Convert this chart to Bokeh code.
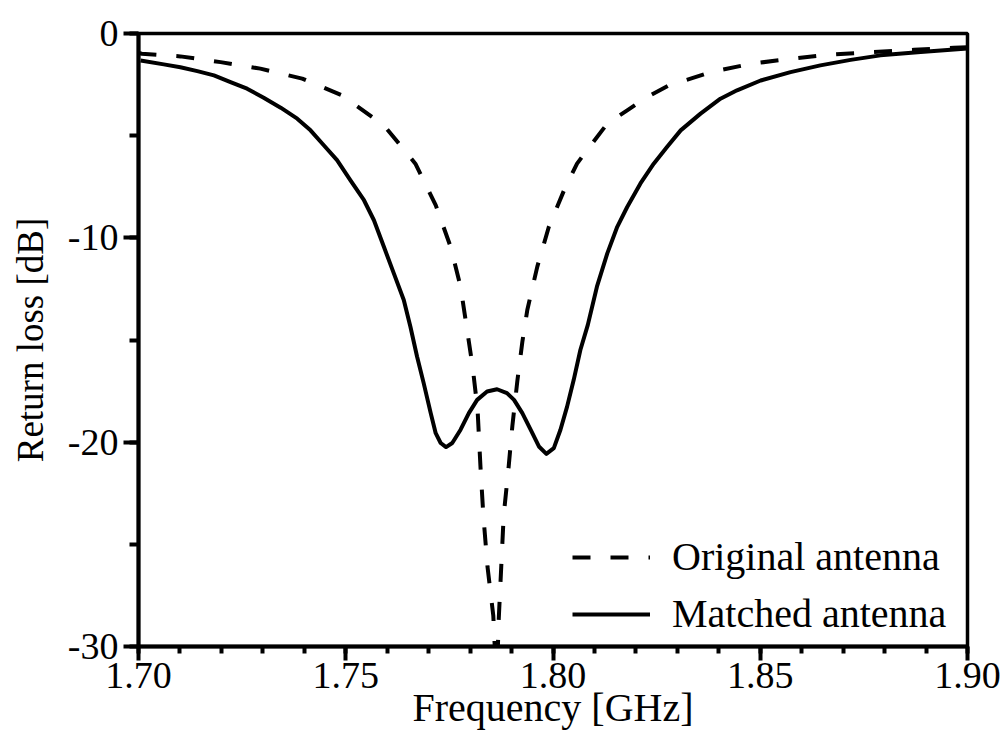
import numpy as np
from bokeh.plotting import figure
from bokeh.models import Range1d, FixedTicker, Legend, LegendItem
from bokeh.embed import file_html
from bokeh.resources import INLINE

# ---- data ----
matched_freq = [1.7005, 1.7061, 1.7101, 1.7142, 1.7182, 1.7222, 1.7262, 1.7302, 1.7343,
                1.7383, 1.7415, 1.7447, 1.7479, 1.7511, 1.7544, 1.7568, 1.7592, 1.7616,
                1.7640, 1.7656, 1.7672, 1.7688, 1.7705, 1.7717, 1.7729, 1.7742, 1.7757,
                1.7777, 1.7797, 1.7817, 1.7841, 1.7865, 1.7889, 1.7906, 1.7926, 1.7946,
                1.7966, 1.7984, 1.8002, 1.8018, 1.8034, 1.8050, 1.8066, 1.8084, 1.8106,
                1.8131, 1.8155, 1.8179, 1.8211, 1.8243, 1.8275, 1.8308, 1.8356, 1.8404,
                1.8444, 1.8501, 1.8573, 1.8645, 1.8718, 1.8790, 1.8887, 1.9000]
matched_db = [-1.32, -1.51, -1.65, -1.84, -2.05, -2.38, -2.70, -3.14, -3.63,
              -4.17, -4.74, -5.47, -6.20, -7.18, -8.16, -9.14, -10.44, -11.74,
              -13.04, -14.35, -15.81, -17.11, -18.58, -19.56, -20.04, -20.24, -20.04,
              -19.39, -18.58, -17.93, -17.52, -17.41, -17.60, -17.93, -18.58, -19.39,
              -20.21, -20.57, -20.29, -19.39, -18.26, -16.95, -15.49, -14.26, -12.39,
              -10.76, -9.46, -8.49, -7.34, -6.37, -5.55, -4.74, -3.92, -3.19,
              -2.78, -2.30, -1.89, -1.56, -1.29, -1.07, -0.91, -0.73]

original_freq = [1.7000, 1.7008, 1.7101, 1.7198, 1.7294, 1.7395, 1.7491, 1.7592, 1.7668,
                 1.7717, 1.7753, 1.7777, 1.7789, 1.7806, 1.7818, 1.7825, 1.7832, 1.7842,
                 1.7856, 1.7864, 1.7869, 1.7881, 1.7893, 1.7902, 1.7914, 1.7926, 1.7938,
                 1.7962, 1.7990, 1.8030, 1.8058, 1.8091, 1.8131, 1.8179, 1.8227, 1.8279,
                 1.8332, 1.8380, 1.8478, 1.8573, 1.8670, 1.8774, 1.8871, 1.8967, 1.9000]
original_db = [-0.95, -0.99, -1.12, -1.40, -1.72, -2.21, -3.03, -4.49, -6.37,
               -8.40, -10.44, -12.39, -14.0, -16.3, -18.4, -21.2, -23.6, -26.1,
               -28.5, -32.0, -28.7, -23.6, -21.2, -19.2, -17.0, -15.1, -13.53,
               -11.42, -9.46, -7.51, -6.37, -5.47, -4.41, -3.76, -3.11, -2.54,
               -2.21, -1.89, -1.48, -1.24, -1.03, -0.91, -0.80, -0.70, -0.67]

x_ticks = [1.70, 1.75, 1.80, 1.85, 1.90]
x_tick_labels = ["1.70", "1.75", "1.80", "1.85", "1.90"]
x_minor = [1.70 + 0.01 * i for i in range(21)]
y_ticks = [-30, -20, -10, 0]
y_tick_labels = ["-30", "-20", "-10", "0"]
y_minor = [-30, -25, -20, -15, -10, -5, 0]

series_names = ["Original antenna", "Matched antenna"]

FONT = "Liberation Serif"

p = figure(width=1008, height=744, output_backend="svg", toolbar_location=None,
           x_range=Range1d(1.70, 1.90), y_range=Range1d(-30, 0),
           min_border_left=138, min_border_right=41, min_border_top=33, min_border_bottom=98)
p.grid.visible = False
p.background_fill_color = "white"
p.border_fill_color = "white"
p.outline_line_color = "black"
p.outline_line_width = 3.5

r_orig = p.line(original_freq, original_db, line_color="black", line_width=4,
                line_dash="18 20", line_join="round")
r_match = p.line(matched_freq, matched_db, line_color="black", line_width=4,
                 line_join="round")

xa = p.xaxis[0]
xa.ticker = FixedTicker(ticks=x_ticks, minor_ticks=x_minor)
xa.major_label_overrides = {t: l for t, l in zip(x_ticks, x_tick_labels)}
ya = p.yaxis[0]
ya.ticker = FixedTicker(ticks=y_ticks, minor_ticks=y_minor)
ya.major_label_overrides = {t: l for t, l in zip(y_ticks, y_tick_labels)}

for ax in (xa, ya):
    ax.axis_line_width = 4
    ax.axis_line_color = "black"
    ax.major_tick_line_width = 4
    ax.minor_tick_line_width = 4
    ax.major_tick_line_color = "black"
    ax.minor_tick_line_color = "black"
    ax.major_tick_in = 0
    ax.minor_tick_in = 0
    ax.major_label_text_font = FONT
    ax.major_label_text_font_size = "38px"
    ax.major_label_text_color = "black"
    ax.axis_label_text_font = FONT
    ax.axis_label_text_font_style = "normal"
    ax.axis_label_text_color = "black"

xa.major_tick_out = 14
xa.minor_tick_out = 7
xa.major_label_standoff = 2
xa.axis_label = "Frequency [GHz]"
xa.axis_label_text_font_size = "40px"
xa.axis_label_standoff = -6

ya.major_tick_out = 15
ya.minor_tick_out = 9
ya.major_label_standoff = 5
ya.axis_label = "Return loss [dB]"
ya.axis_label_text_font_size = "37px"
ya.axis_label_standoff = 14

legend = Legend(items=[LegendItem(label=series_names[0], renderers=[r_orig]),
                       LegendItem(label=series_names[1], renderers=[r_match])],
                location=(434, 9), padding=0, margin=0, spacing=10,
                glyph_width=78, glyph_height=40, label_height=40, label_standoff=22,
                label_text_font=FONT, label_text_font_size="40px", label_text_color="black",
                border_line_color=None, background_fill_alpha=0)
p.add_layout(legend, "center")

open("out.html", "w").write(file_html(p, INLINE))
